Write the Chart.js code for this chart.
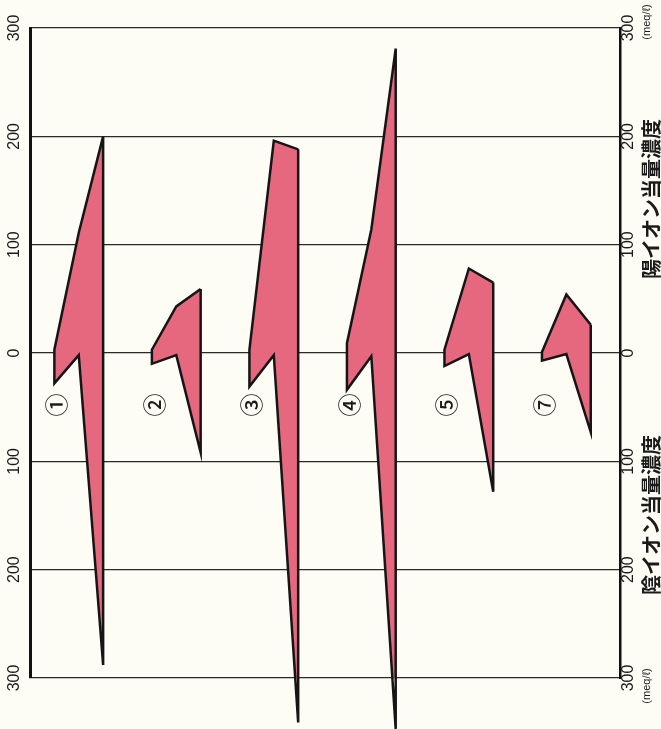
<!DOCTYPE html>
<html>
<head>
<meta charset="utf-8">
<script src="https://cdn.jsdelivr.net/npm/chart.js@4"></script>
<style>
html, body { margin:0; padding:0; background:#fdfdf6; }
#wrap { width:661px; height:729px; position:relative; }
</style>
</head>
<body>
<div id="wrap"><canvas id="canvas"></canvas></div>
<script>
// samples (circled numbers as printed)
const samples = ['①', '②', '③', '④', '⑤', '⑦'];
// cation side, meq/l (three columns per sample)
const cationA = [3, 3, 3, 9, 3, 1];
const cationB = [111, 43, 196, 114, 78, 54];
const cationC = [200, 59, 188, 281, 65, 26];
// anion side, meq/l
const anionA = [28, 10, 31, 34, 12, 7];
const anionB = [2, 2, 2, 3, 1, 1];
const anionC = [288, 92, 341, 347, 128, 73];
const tickValues = [-300, -200, -100, 0, 100, 200, 300];

let datasets = [];
for (let i = 0; i < samples.length; i++)
{
    let x0 = 1 + 4 * i;
    datasets.push({
        label: samples[i],
        data: [
            {x: x0 + 2, y: cationC[i]},
            {x: x0 + 1, y: cationB[i]},
            {x: x0, y: cationA[i]},
            {x: x0, y: -anionA[i]},
            {x: x0 + 1, y: -anionB[i]},
            {x: x0 + 2, y: -anionC[i]},
            {x: x0 + 2, y: cationC[i]}
        ],
        showLine: true,
        fill: 'shape',
        backgroundColor: '#e5687f',
        borderColor: '#151515',
        borderWidth: 2.5,
        borderJoinStyle: 'miter',
        pointRadius: 0,
        tension: 0,
        clip: false
    });
}

const textPlugin = {
    id: 'texts',
    afterDraw(chart) {
        const c = chart.ctx;
        const xs = chart.scales.x, ys = chart.scales.y;
        function vtext(str, x, y, font) {
            c.save();
            c.translate(x, y);
            c.rotate(-Math.PI / 2);
            c.font = font;
            c.fillStyle = '#1a1a1a';
            c.textAlign = 'center';
            c.textBaseline = 'middle';
            c.fillText(str, 0, 0);
            c.restore();
        }
        for (let i = 0; i < samples.length; i++) {
            vtext(samples[i], xs.getPixelForValue(1 + 4 * i) + 2, ys.getPixelForValue(-48),
                '500 23px "Noto Sans CJK JP"');
        }
        vtext('陽イオン当量濃度', 651, 199, 'bold 20px "Noto Sans CJK JP"');
        vtext('陰イオン当量濃度', 651, 515, 'bold 20px "Noto Sans CJK JP"');
        vtext('(meq/ℓ)', 647, 22, '11px "Liberation Sans"');
        vtext('(meq/ℓ)', 647, 686, '11px "Liberation Sans"');
    }
};

let ctx = document.getElementById('canvas').getContext('2d');
window.myChart = new Chart(ctx, {
    type: 'scatter',
    data: { datasets: datasets },
    options: {
        responsive: true,
        maintainAspectRatio: false,
        animation: false,
        layout: { padding: { top: 28, bottom: 51, left: 0, right: 0 } },
        plugins: { legend: { display: false }, tooltip: { enabled: false } },
        scales: {
            x: { type: 'linear', min: 0, max: 24.2, display: false },
            y: {
                position: 'left',
                z: 1,
                min: -300, max: 300,
                afterBuildTicks: (s) => { s.ticks = tickValues.map(v => ({value: v})); },
                afterFit: (s) => { s.width = 30; },
                grid: { color: '#2a2a2a', lineWidth: 1.3, drawTicks: false },
                border: { color: '#111', width: 3 },
                ticks: {
                    minRotation: 90, maxRotation: 90, crossAlign: 'center', padding: 2,
                    color: '#1a1a1a', font: { family: 'Liberation Sans', size: 16 },
                    callback: (v) => Math.abs(v)
                }
            },
            y2: {
                position: 'right',
                z: 1,
                min: -300, max: 300,
                afterBuildTicks: (s) => { s.ticks = tickValues.map(v => ({value: v})); },
                afterFit: (s) => { s.width = 41; },
                grid: { display: false, drawTicks: false },
                border: { color: '#111', width: 2.5 },
                ticks: {
                    minRotation: 90, maxRotation: 90, crossAlign: 'center', padding: -5,
                    color: '#1a1a1a', font: { family: 'Liberation Sans', size: 16 },
                    callback: (v) => Math.abs(v)
                }
            }
        }
    },
    plugins: [textPlugin]
});
</script>
</body>
</html>
